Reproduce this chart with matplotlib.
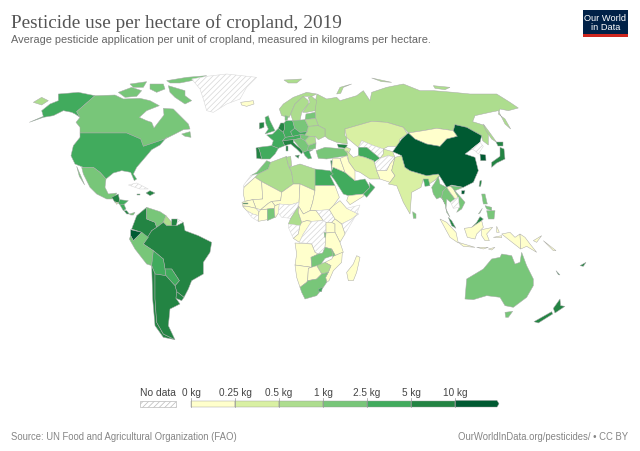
import numpy as np
import matplotlib
matplotlib.use("Agg")
import matplotlib.pyplot as plt
from matplotlib.colors import BoundaryNorm, ListedColormap
from matplotlib.patches import Polygon, Rectangle

plt.rcParams['hatch.linewidth'] = 0.5

TITLE = "Pesticide use per hectare of cropland, 2019"
SUBTITLE = "Average pesticide application per unit of cropland, measured in kilograms per hectare."
SOURCE = "Source: UN Food and Agricultural Organization (FAO)"
CREDIT = "OurWorldInData.org/pesticides/ • CC BY"

BIN_EDGES = [0, 0.25, 0.5, 1, 2.5, 5, 10, 1000]
BIN_LABELS = ["0 kg", "0.25 kg", "0.5 kg", "1 kg", "2.5 kg", "5 kg", "10 kg"]
BIN_COLORS = ["#ffffcc", "#d9f0a3", "#addd8e", "#78c679", "#41ab5d", "#238443", "#005a32"]

ND = float('nan')
VALUES = {
    "Russia": 0.7, "Alaska": 3.5, "Canada": 1.6, "USA": 3.5, "Greenland": ND, "Iceland": 0.15,
    "Mexico": 1.6, "Guatemala": 7, "Salvador": 0.35, "Honduras": 3.5, "Nicaragua": 3.5,
    "CostaRica": 7, "Panama": 1.6, "Cuba": ND, "Dominican": 7, "Jamaica": 7,
    "Colombia": 7, "Ecuador": 13, "Venezuela": 1.6, "Guyana": 0.7, "Suriname": 7, "FrGuiana": ND,
    "Brazil": 7, "Peru": 1.6, "Bolivia": 3.5, "Paraguay": 3.5, "Chile": 7, "Argentina": 7, "Uruguay": 7,
    "UK": 3.5, "Ireland": 7, "France": 3.5, "Benelux": 7, "Germany": 3.5, "Austria": 3.5, "Italy": 7,
    "Spain": 3.5, "Portugal": 7, "Norway": 0.7, "Sweden": 0.7, "Finland": 0.7, "Denmark": 1.6,
    "Baltics": 1.6, "Poland": 1.6, "Czechia": 3.5, "Hungary": 1.6, "Belarus": 0.7, "Ukraine": 0.7,
    "Romania": 0.7, "Bulgaria": 1.6, "Balkans": 1.6, "Greece": 3.5, "Turkey": 1.6, "Georgia": 7,
    "Azerbaijan": 0.35, "Kazakhstan": 0.35, "Uzbekistan": ND, "Turkmenistan": 3.5, "Kyrgyzstan": 0.35,
    "Afghanistan": ND, "Iran": 0.35, "Pakistan": 0.15, "India": 0.35, "Bangladesh": 3.5, "Myanmar": 1.6,
    "Mongolia": 0.15, "China": 13, "NKorea": ND, "SKorea": 13, "Japan": 7, "Taiwan": 7, "Hainan": 13,
    "SriLanka": 1.6, "Saudi": 3.5, "Oman": 3.5, "Yemen": 0.15, "Egypt": 3.5, "Levant": 0.15, "Iraq": 0.15,
    "Israel": 7, "Morocco": 1.6, "WSahara": ND, "Algeria": 0.7, "Tunisia": 0.7, "Libya": 0.7,
    "Mauritania": 0.15, "Mali": 0.15, "Niger": 0.15, "Chad": 0.15, "Sudan": 0.15, "SSudan": ND,
    "Ethiopia": 0.15, "Somalia": ND, "Senegal": 0.15, "Gambia": 7, "Guinea": 0.15, "SierraLeone": ND,
    "IvoryCoast": 0.15, "Burkina": 0.15, "Ghana": 1.6, "Benin": 0.15, "Nigeria": ND, "Cameroon": 0.7,
    "CAR": 0.15, "Gabon": ND, "Congo": 0.15, "DRC": ND, "Rwanda": 1.6, "Uganda": 0.15, "Kenya": 0.15,
    "Tanzania": 0.15, "Angola": 0.15, "Zambia": 1.6, "Malawi": 1.6, "Mozambique": 0.15, "Zimbabwe": 0.7,
    "Namibia": 0.15, "Botswana": 0.15, "SouthAfrica": 1.6, "Lesotho": 3.5, "Madagascar": 0.15,
    "Thailand": 1.6, "Laos": 0.15, "Vietnam": 1.6, "Cambodia": ND, "Malaysia": 7, "Indonesia": 0.15,
    "Philippines": 1.6, "PNG": 0.15, "Solomons": 0.15, "Australia": 1.6, "NewZealand": 7, "NewCaledonia": 7, "Fiji": 7,
}

# Crops of the map sheet: origin of each local outline grid (three grid units per map unit)
SHEETS = {'W': (0, 60), 'E': (320, 60), 'EU': (250, 100), 'AF': (240, 170), 'SA': (285, 250),
          'ME': (345, 130), 'SEA': (430, 170), 'CA': (100, 170)}

# Hand-traced national outlines
OUTLINES = {
 "Russia": [('E', [(-9,105),(20,120),(50,115),(60,125),(110,110),(130,95),(150,125),(155,100),(200,85),(250,75),(300,95),(340,95),(400,100),(450,105),(530,105),(570,130),(595,147),(565,155),(540,150),(535,165),(555,180),(572,210),(555,195),(535,155),(510,160),(465,170),(458,188),(490,198),(505,225),(505,258),(488,245),(485,230),(440,205),(405,197),(400,215),(350,208),(310,215),(265,222),(250,205),(200,190),(155,187),(75,210),(75,230),(80,235),(82,255),(50,250),(25,240),(15,232),(15,210),(-5,200),(-13,178),(-15,160),(-15,130)]),
            ('E', [(50,105),(60,85),(95,75),(70,85),(62,103)]), ('E', [(155,57),(215,70),(185,68)]), ('E', [(340,80),(390,85),(375,92),(345,88)]),
            ('E', [(490,195),(505,215),(530,250),(515,240),(498,215)]), ('W', [(100,130),(125,115),(145,125),(125,138)]), ('W', [(852,63),(905,60),(890,72),(865,72)])],
 "Alaska": [('W', [(88,190),(130,172),(125,155),(150,135),(175,125),(175,105),(235,100),(285,110),(230,158),(240,175),(225,165),(215,160),(190,155),(160,170),(130,175)])],
 "Canada": [('W', [(285,110),(345,108),(370,120),(420,118),(450,125),(478,140),(440,155),(418,175),(440,185),(455,190),(462,207),(475,190),(492,168),(490,148),(520,150),(545,175),(565,195),(570,210),(550,212),(525,225),(505,235),(495,240),(465,250),(430,262),(422,240),(380,222),(240,222),(240,205),(228,190),(240,175),(230,158)]),
            ('W', [(505,80),(555,95),(555,110),(575,125),(555,135),(525,115),(510,100)]), ('W', [(355,100),(395,85),(425,95),(410,112),(375,115)]),
            ('W', [(390,75),(440,68),(430,85),(400,85)]), ('W', [(450,75),(490,75),(495,90),(470,100),(450,90)]), ('W', [(500,65),(560,55),(620,50),(590,62),(540,72),(510,72)]),
            ('W', [(545,225),(570,218),(573,235),(555,232)])],
 "USA": [('W', [(240,222),(380,222),(422,240),(430,262),(465,250),(495,240),(500,235),(480,258),(455,272),(440,290),(410,325),(400,345),(410,360),(403,365),(392,340),(365,335),(340,342),(318,360),(300,340),(280,325),(250,325),(225,315),(213,290),(220,260),(240,235)])],
 "Greenland": [('W', [(575,60),(620,52),(680,45),(770,55),(740,85),(720,120),(680,135),(640,160),(620,155),(610,120),(600,90)])],
 "Iceland": [('W', [(722,130),(760,125),(762,135),(740,142),(725,138)])],
 "Mexico": [('W', [(245,325),(280,325),(300,340),(318,360),(315,385),(325,405),(350,402),(345,412),(335,420),(320,420),(290,405),(270,385),(250,345)]), ('W', [(230,322),(240,345),(254,378),(238,352)])],
 "Guatemala": [('CA', [(35,85),(55,75),(60,100),(45,100)])],
 "Salvador": [('CA', [(45,98),(55,102),(50,106)])],
 "Honduras": [('CA', [(55,102),(60,92),(85,95),(70,108),(60,108)])],
 "Nicaragua": [('CA', [(60,108),(72,106),(78,120),(70,125)])],
 "CostaRica": [('CA', [(72,125),(80,125),(88,135),(80,135)])],
 "Panama": [('CA', [(88,135),(105,130),(100,138),(92,138)])],
 "Cuba": [('CA', [(85,48),(110,42),(145,60),(120,60)])],
 "Dominican": [('CA', [(138,72),(150,65),(165,72),(150,80)])],
 "Jamaica": [('CA', [(112,74),(120,74),(120,78),(112,78)])],
 "Colombia": [('W', [(395,510),(410,470),(440,445),(440,480),(465,490),(470,505),(455,515),(440,540),(425,520)])],
 "Ecuador": [('W', [(392,512),(425,520),(400,545),(392,530)])],
 "Venezuela": [('W', [(440,445),(480,458),(498,470),(490,490),(470,505),(465,490),(440,480)])],
 "Guyana": [('W', [(498,470),(515,490),(515,503),(500,500),(490,490)])],
 "Suriname": [('W', [(515,480),(533,480),(530,500),(515,503),(515,490)])],
 "FrGuiana": [('W', [(533,480),(550,490),(530,500)])],
 "Brazil": [('W', [(430,555),(455,515),(470,505),(490,490),(500,500),(530,500),(550,490),(555,515),(595,530),(635,550),(630,580),(610,610),(610,645),(575,665),(565,690),(552,715),(530,698),(525,680),(538,665),(515,630),(495,630),(490,600),(460,575)])],
 "Peru": [('W', [(392,530),(400,545),(425,520),(445,535),(430,555),(460,575),(455,620),(440,615),(405,570),(388,540)])],
 "Bolivia": [('W', [(460,575),(490,600),(495,630),(498,650),(465,645),(455,620)])],
 "Paraguay": [('W', [(495,630),(515,630),(538,665),(525,680),(498,650)])],
 "Chile": [('W', [(455,620),(465,645),(465,720),(470,790),(490,825),(525,842),(490,835),(465,800),(458,720)])],
 "Argentina": [('W', [(465,645),(498,650),(525,680),(530,698),(528,718),(540,735),(510,750),(505,800),(525,842),(490,825),(470,790),(465,720)])],
 "Uruguay": [('W', [(530,698),(552,715),(545,725),(528,718)])],
 "UK": [('EU', [(45,55),(55,50),(60,65),(70,85),(75,95),(60,100),(45,105),(55,90),(48,75)])],
 "Ireland": [('EU', [(28,72),(42,70),(42,85),(28,90)])],
 "France": [('EU', [(50,108),(68,105),(85,88),(100,100),(106,115),(98,125),(104,140),(85,148),(65,140),(70,125)])],
 "Benelux": [('EU', [(85,88),(92,72),(102,72),(104,88),(100,100)])],
 "Germany": [('EU', [(102,72),(108,65),(128,65),(134,88),(122,98),(128,112),(106,115),(100,100),(104,88)])],
 "Austria": [('EU', [(106,115),(128,112),(150,107),(152,118),(130,122),(98,125)])],
 "Italy": [('EU', [(98,125),(130,122),(130,130),(140,140),(160,155),(155,165),(140,150),(122,135),(104,140)]), ('EU', [(108,140),(115,140),(115,155),(108,155)]), ('EU', [(135,170),(148,168),(145,178)])],
 "Spain": [('EU', [(25,145),(65,140),(85,148),(75,165),(60,180),(35,180),(30,160)])],
 "Portugal": [('EU', [(18,147),(25,145),(30,160),(35,180),(20,178)])],
 "Norway": [('W', [(838,150),(850,135),(880,115),(920,100),(950,105),(935,112),(910,112),(885,135),(872,165),(868,175),(845,170)])],
 "Sweden": [('W', [(872,165),(885,135),(910,112),(925,125),(925,135),(905,160),(900,185),(880,190)])],
 "Finland": [('W', [(925,115),(935,112),(950,125),(945,155),(920,160),(908,160),(925,135),(930,130)])],
 "Denmark": [('EU', [(105,50),(115,52),(112,63),(105,64)])],
 "Baltics": [('EU', [(165,62),(168,45),(195,40),(197,58)])],
 "Poland": [('EU', [(128,65),(165,62),(175,82),(172,98),(150,100),(134,88)])],
 "Czechia": [('EU', [(122,98),(134,88),(150,100),(172,98),(165,108),(150,107),(128,112)])],
 "Hungary": [('EU', [(150,107),(165,108),(178,112),(165,125),(152,118)])],
 "Belarus": [('EU', [(165,62),(197,58),(205,80),(175,82)])],
 "Ukraine": [('EU', [(172,98),(175,82),(205,80),(225,90),(225,112),(205,122),(195,112),(178,112),(165,108)])],
 "Romania": [('EU', [(165,125),(178,112),(195,112),(198,132),(175,140)])],
 "Bulgaria": [('EU', [(175,140),(198,132),(197,148),(172,155)])],
 "Balkans": [('EU', [(130,122),(152,118),(165,125),(175,140),(172,155),(160,160),(140,135)])],
 "Greece": [('EU', [(160,160),(172,155),(190,152),(178,158),(185,178),(175,180),(165,170)])],
 "Turkey": [('EU', [(198,155),(225,145),(260,148),(290,150),(295,170),(260,175),(230,180),(205,178)])],
 "Georgia": [('E', [(52,255),(82,258),(78,268),(55,265)])],
 "Azerbaijan": [('E', [(78,264),(92,270),(85,285),(72,272)])],
 "Kazakhstan": [('E', [(75,210),(155,187),(200,190),(250,205),(262,225),(240,240),(235,262),(205,262),(190,270),(160,260),(125,245),(115,265),(85,240),(80,235)])],
 "Uzbekistan": [('ME', [(50,35),(85,50),(115,60),(115,75),(105,88),(65,55),(40,55)])],
 "Turkmenistan": [('ME', [(40,55),(65,55),(105,88),(88,100),(85,95),(60,85),(40,80)])],
 "Kyrgyzstan": [('ME', [(115,60),(143,68),(150,85),(130,80),(105,88),(115,75)])],
 "Afghanistan": [('ME', [(88,100),(105,88),(130,80),(150,85),(135,105),(125,125),(95,125)])],
 "Iran": [('ME', [(5,65),(25,85),(40,80),(60,85),(85,95),(88,100),(95,125),(105,150),(75,150),(45,130),(30,125),(12,100)])],
 "Pakistan": [('ME', [(95,125),(125,125),(135,105),(150,85),(140,125),(150,140),(135,160),(105,150)])],
 "India": [('ME', [(150,85),(170,80),(180,115),(195,125),(245,140),(280,135),(285,140),(268,155),(245,170),(235,150),(228,175),(200,190),(195,255),(175,220),(155,170),(130,165),(135,160),(150,140),(140,125)])],
 "Bangladesh": [('ME', [(235,150),(250,150),(255,170),(240,172)])],
 "Myanmar": [('SEA', [(5,55),(15,40),(25,22),(30,45),(50,55),(38,68),(35,85),(45,105),(38,90),(30,85),(20,90),(10,75)])],
 "Mongolia": [('E', [(265,222),(310,215),(350,208),(400,215),(412,232),(380,240),(360,262),(320,255),(285,240)])],
 "China": [('E', [(218,278),(245,240),(265,222),(285,240),(320,255),(360,262),(380,240),(412,232),(400,215),(405,197),(440,205),(485,230),(480,250),(455,270),(435,285),(465,295),(475,335),(460,370),(430,385),(395,378),(380,385),(355,345),(320,350),(270,335),(255,325),(245,290)])],
 "NKorea": [('E', [(455,270),(480,250),(490,262),(475,285),(465,275)])],
 "SKorea": [('E', [(480,285),(497,288),(498,305),(482,305)])],
 "Japan": [('E', [(515,310),(540,292),(540,265),(552,270),(555,300),(530,312),(515,325)]), ('E', [(528,250),(550,250),(550,262),(535,262)])],
 "Taiwan": [('E', [(480,365),(485,365),(482,382),(477,382)])],
 "Hainan": [('E', [(425,395),(435,395),(432,405),(425,405)])],
 "SriLanka": [('E', [(278,458),(288,465),(288,478),(280,478)])],
 "Saudi": [('E', [(40,325),(75,340),(105,365),(135,360),(150,385),(130,405),(85,410),(70,405),(45,365),(30,345)])],
 "Oman": [('E', [(148,370),(165,385),(140,415),(130,405),(150,385)])],
 "Yemen": [('E', [(85,410),(130,405),(130,412),(90,437),(80,425)])],
 "Egypt": [('E', [(-15,330),(30,335),(40,345),(30,350),(45,380),(-15,380)])],
 "Levant": [('E', [(35,325),(38,298),(60,298),(75,340),(40,325)])],
 "Iraq": [('E', [(60,298),(80,290),(87,310),(105,335),(105,365),(75,340)])],
 "Israel": [('E', [(32,305),(36,305),(35,335)])],
 "Morocco": [('W', [(770,340),(800,305),(812,310),(805,330),(775,345),(752,350)])],
 "WSahara": [('W', [(752,350),(775,345),(765,355),(730,385),(730,380)])],
 "Algeria": [('W', [(775,345),(805,330),(812,310),(860,292),(865,320),(875,340),(880,375),(845,400),(785,368),(765,355)])],
 "Tunisia": [('W', [(858,295),(872,292),(875,320),(868,325)])],
 "Libya": [('W', [(868,325),(900,315),(945,330),(945,395),(900,375),(880,375),(875,340)])],
 "Mauritania": [('AF', [(12,55),(45,25),(65,38),(68,90),(38,92),(15,97),(10,75)])],
 "Mali": [('AF', [(65,38),(125,70),(122,95),(95,97),(85,103),(62,122),(48,118),(38,92),(68,90)])],
 "Senegal": [('AF', [(15,97),(38,92),(48,118),(22,112),(8,110),(6,100)])],
 "Gambia": [('AF', [(10,102),(25,102),(25,106),(10,106)])],
 "Guinea": [('AF', [(8,112),(22,112),(48,118),(57,128),(55,140),(38,135),(20,125)])],
 "SierraLeone": [('AF', [(20,125),(38,135),(55,140),(55,157),(35,145)])],
 "IvoryCoast": [('AF', [(57,128),(62,122),(82,120),(82,152),(55,157),(55,140)])],
 "Burkina": [('AF', [(62,122),(85,103),(95,97),(105,110),(103,118),(82,120)])],
 "Ghana": [('AF', [(82,120),(103,118),(105,145),(82,155)])],
 "Benin": [('AF', [(103,118),(105,110),(118,105),(115,132),(107,145),(105,145)])],
 "Niger": [('AF', [(95,97),(122,95),(125,70),(160,45),(180,45),(177,100),(150,108),(118,105),(105,110)])],
 "Nigeria": [('AF', [(118,105),(150,108),(177,100),(170,120),(152,148),(125,145),(115,132)])],
 "Cameroon": [('AF', [(170,120),(176,112),(175,130),(185,160),(180,170),(145,165),(152,148)])],
 "Chad": [('AF', [(180,45),(225,65),(218,100),(210,125),(190,135),(176,112),(177,100)])],
 "CAR": [('AF', [(190,135),(210,125),(228,125),(250,155),(215,157),(200,155),(185,160),(175,130),(176,112)])],
 "Sudan": [('AF', [(225,50),(285,50),(298,85),(280,110),(268,122),(228,125),(210,125),(218,100),(225,65)])],
 "SSudan": [('AF', [(228,125),(268,122),(285,150),(275,160),(258,160),(250,155)])],
 "Ethiopia": [('AF', [(280,110),(300,95),(320,118),(355,135),(335,150),(305,165),(285,150),(268,122)])],
 "Somalia": [('AF', [(320,118),(360,108),(350,135),(315,195),(305,165),(335,150),(355,135)])],
 "Uganda": [('AF', [(258,160),(275,160),(285,165),(285,190),(258,192)])],
 "Kenya": [('AF', [(285,150),(305,165),(315,195),(300,220),(285,190),(285,165),(275,160)])],
 "Gabon": [('AF', [(145,175),(145,165),(180,170),(175,195),(160,208)])],
 "Congo": [('AF', [(180,170),(185,160),(200,155),(215,157),(190,195),(178,220),(160,208),(175,195)])],
 "DRC": [('AF', [(215,157),(250,155),(258,160),(258,192),(255,235),(248,252),(235,255),(225,250),(215,225),(178,220),(190,195)])],
 "Rwanda": [('AF', [(252,190),(260,192),(258,205),(254,205)])],
 "Tanzania": [('AF', [(258,192),(285,190),(300,220),(310,250),(285,260),(275,240),(255,235)])],
 "Angola": [('AF', [(165,222),(215,225),(225,250),(235,255),(213,265),(215,295),(165,288),(170,255)])],
 "Zambia": [('AF', [(213,265),(235,255),(248,252),(255,235),(275,240),(278,260),(255,268),(240,290),(215,295)])],
 "Malawi": [('AF', [(275,240),(288,262),(282,280),(278,260)])],
 "Mozambique": [('SA', [(145,22),(172,10),(170,40),(145,65),(132,95),(125,100),(122,85),(130,70),(138,50),(120,40),(140,30)])],
 "Zimbabwe": [('SA', [(95,50),(120,40),(138,50),(130,70),(110,75)])],
 "Namibia": [('SA', [(30,48),(80,55),(70,58),(68,95),(65,100),(45,115),(35,85)])],
 "Botswana": [('SA', [(70,58),(95,50),(110,75),(95,90),(68,95)])],
 "SouthAfrica": [('SA', [(45,115),(65,100),(68,95),(95,90),(110,75),(130,70),(122,85),(125,100),(115,115),(95,140),(60,150),(50,130)])],
 "Lesotho": [('SA', [(100,120),(112,115),(110,128),(100,128)])],
 "Madagascar": [('SA', [(215,20),(225,25),(215,70),(205,95),(190,95),(185,70),(205,45)])],
 "Thailand": [('SEA', [(38,68),(50,55),(60,70),(75,90),(62,100),(50,90),(48,120),(60,145),(50,130),(45,105),(35,85)])],
 "Laos": [('SEA', [(50,55),(65,50),(85,85),(75,90),(60,70)])],
 "Vietnam": [('SEA', [(60,50),(100,55),(75,65),(105,100),(95,120),(80,130),(88,115),(85,85),(70,60)])],
 "Cambodia": [('SEA', [(62,100),(75,90),(85,85),(88,115),(70,118)])],
 "Malaysia": [('SEA', [(55,145),(65,155),(78,178),(65,170)]), ('SEA', [(125,175),(140,160),(150,143),(160,150),(155,155)])],
 "Indonesia": [('SEA', [(30,150),(50,160),(78,190),(85,222),(60,205)]), ('SEA', [(85,220),(135,235),(100,232)]), ('SEA', [(103,178),(125,175),(155,155),(160,175),(140,195),(135,210),(112,205)]),
               ('SEA', [(155,182),(188,175),(170,195),(178,215),(165,215),(155,200)]), ('SEA', [(190,205),(215,200),(215,206)]), ('SEA', [(140,235),(175,235),(160,240)]), ('SEA', [(175,240),(195,235),(185,243)]),
               ('SEA', [(200,172),(208,190),(200,190)]), ('SEA', [(215,195),(240,190),(255,205),(270,195),(272,240),(240,215)])],
 "Philippines": [('SEA', [(155,75),(165,75),(172,105),(160,105)]), ('SEA', [(170,125),(195,125),(192,150),(175,150)]), ('SEA', [(165,110),(185,115),(185,125),(170,120)]), ('SEA', [(145,135),(157,118),(150,132)])],
 "PNG": [('SEA', [(270,195),(285,205),(300,225),(320,250),(290,232),(272,240)]), ('SEA', [(310,215),(335,200),(320,220)])],
 "Solomons": [('E', [(670,545),(708,575),(700,575)])],
 "Australia": [('E', [(435,720),(440,660),(490,630),(515,600),(540,595),(545,585),(575,590),(585,615),(600,610),(605,580),(620,620),(640,660),(640,680),(620,715),(580,745),(555,740),(540,715),(500,710),(460,722)]), ('E', [(555,760),(578,757),(565,775),(557,775)])],
 "NewZealand": [('E', [(642,788),(695,758),(698,765),(655,792)]), ('E', [(700,748),(720,720),(722,740),(735,742),(705,762)])],
 "NewCaledonia": [('E', [(708,635),(720,648),(715,647)])],
 "Fiji": [('E', [(780,620),(798,610),(790,622)])],
}

fig = plt.figure(figsize=(6.4, 4.52), dpi=100)
ax = fig.add_axes([0, 0, 1, 1])
ax.set_xlim(0, 640)
ax.set_ylim(452, 0)
ax.axis('off')

cmap = ListedColormap(BIN_COLORS)
norm = BoundaryNorm(BIN_EDGES, cmap.N)
BORDER = "#aaaaaa"

for name, value in VALUES.items():
    for sheet, pts in OUTLINES[name]:
        ox, oy = SHEETS[sheet]
        xy = np.array(pts, dtype=float) / 3 + (ox, oy)
        if np.isnan(value):
            ax.add_patch(Polygon(xy, facecolor="white", edgecolor="#d6d6d6", hatch="//////", lw=0.35))
        else:
            ax.add_patch(Polygon(xy, facecolor=cmap(norm(value)), edgecolor=BORDER, lw=0.35))

# Title block
ax.text(11, 28, TITLE, family="Liberation Serif", fontsize=13.9, color="#555555", va="baseline", ha="left")
ax.text(11, 43, SUBTITLE, family="Liberation Sans", fontsize=7.88, color="#666666", va="baseline", ha="left")

# Logo
ax.add_patch(Rectangle((583, 11), 45, 26.5, facecolor="#002147", edgecolor="none"))
ax.add_patch(Rectangle((583, 35), 45, 2.5, facecolor="#ce261e", edgecolor="none"))
ax.text(605.5, 18.5, "Our World", family="Liberation Sans", fontsize=6.7, color="white", ha="center", va="center")
ax.text(605.5, 28, "in Data", family="Liberation Sans", fontsize=6.7, color="white", ha="center", va="center")

# Legend
x0, step, y0, y1 = 191, 44, 401.5, 408
ax.add_patch(Rectangle((140, y0), 36, y1 - y0, facecolor="white", edgecolor="#bbbbbb", hatch="//////", lw=0.5))
ax.text(158, 396, "No data", family="Liberation Sans", fontsize=7.4, color="#444444", ha="center", va="baseline")
for i, (label, colour) in enumerate(zip(BIN_LABELS, BIN_COLORS)):
    left = x0 + i * step
    if i < len(BIN_COLORS) - 1:
        ax.add_patch(Rectangle((left, y0), step, y1 - y0, facecolor=colour, edgecolor="#999999", lw=0.3))
    else:
        ax.add_patch(Polygon([(left, y0), (left + step - 2, y0), (left + step, (y0 + y1) / 2), (left + step - 2, y1), (left, y1)],
                             facecolor=colour, edgecolor="#999999", lw=0.3))
    ax.plot([left, left], [399, y1], color="#999999", lw=0.5)
    ax.text(left, 396, label, family="Liberation Sans", fontsize=7.2, color="#444444", ha="center", va="baseline")

# Footer
ax.text(11, 440, SOURCE, family="Liberation Sans", fontsize=6.85, color="#858585", ha="left", va="baseline")
ax.text(628, 440, CREDIT, family="Liberation Sans", fontsize=6.85, color="#858585", ha="right", va="baseline")

fig.savefig("out.png", dpi=100)
